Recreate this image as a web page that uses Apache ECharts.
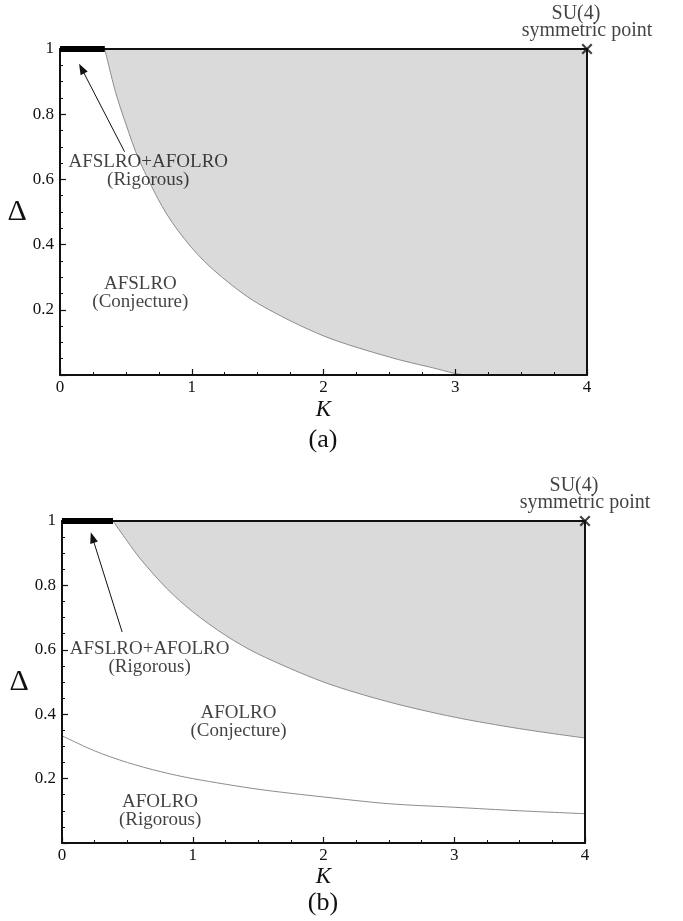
<!DOCTYPE html>
<html><head><meta charset="utf-8">
<script src="https://cdn.jsdelivr.net/npm/echarts@6/dist/echarts.min.js"></script>
<style>html,body{margin:0;padding:0;background:#fff}#c{width:683px;height:921px}</style>
</head><body><div id="c"></div>
<script>
// ---- Data ----
// Panel (a): boundary of the grey region
const aBoundaryK = [0.34, 0.42, 0.50, 0.60, 0.80, 1.00, 1.20, 1.50, 2.00, 2.50, 2.80, 3.10, 4.00];
const aBoundaryD = [1.00, 0.87, 0.77, 0.66, 0.50, 0.39, 0.31, 0.22, 0.12, 0.055, 0.025, 0.00, 0.00];
// Panel (a): thick rigorous segment on Δ = 1
const aBarK = [0, 0.34];
const aBarD = [1, 1];
// Panel (b): boundary of the grey region
const bBoundaryK = [0.39, 0.50, 0.60, 0.80, 1.00, 1.25, 1.50, 2.00, 2.50, 3.00, 3.50, 4.00];
const bBoundaryD = [1.00, 0.937, 0.882, 0.791, 0.718, 0.645, 0.587, 0.50, 0.438, 0.391, 0.355, 0.326];
// Panel (b): lower (rigorous AFOLRO) curve
const bLowerK = [0, 0.25, 0.5, 0.75, 1, 1.5, 2, 2.5, 3, 3.5, 4];
const bLowerD = [0.333, 0.286, 0.25, 0.222, 0.2, 0.167, 0.143, 0.122, 0.111, 0.1, 0.091];
// Panel (b): thick rigorous segment on Δ = 1
const bBarK = [0, 0.39];
const bBarD = [1, 1];
// SU(4) symmetric point
const su4K = 4, su4D = 1;
// Axis ticks
const kMin = 0, kMax = 4, kStep = 1;
const dMin = 0, dMax = 1, dStep = 0.2;

const zip = (a, b) => a.map((v, i) => [v, b[i]]);
const FONT = '"Liberation Serif", "Times New Roman", serif';
const INK = '#111';

function bottomX(gi, nameGap) {
  return {
    type: 'value', gridIndex: gi, min: kMin, max: kMax, interval: kStep, position: 'bottom', z: 10,
    axisLine: { onZero: false, lineStyle: { color: INK, width: 2 } },
    axisTick: { inside: true, length: 6, lineStyle: { color: INK, width: 1.2 } },
    minorTick: { show: true, splitNumber: 4, length: 3, lineStyle: { color: INK, width: 1 } },
    splitLine: { show: false },
    axisLabel: { fontFamily: FONT, fontSize: 17, color: INK, margin: 4 },
    name: 'K', nameLocation: 'middle', nameGap: nameGap,
    nameTextStyle: { fontFamily: FONT, fontStyle: 'italic', fontSize: 23, color: INK }
  };
}
function topX(gi) {
  return {
    type: 'value', gridIndex: gi, min: kMin, max: kMax, position: 'top', z: 10,
    axisLine: { onZero: false, lineStyle: { color: INK, width: 2 } },
    axisTick: { show: false }, axisLabel: { show: false }, splitLine: { show: false }
  };
}
function leftY(gi) {
  return {
    type: 'value', gridIndex: gi, min: dMin, max: dMax, interval: dStep, position: 'left', z: 10,
    axisLine: { onZero: false, lineStyle: { color: INK, width: 2 } },
    axisTick: { inside: true, length: 6, lineStyle: { color: INK, width: 1.2 } },
    minorTick: { show: true, splitNumber: 4, length: 3, lineStyle: { color: INK, width: 1 } },
    splitLine: { show: false },
    axisLabel: { fontFamily: FONT, fontSize: 17, color: INK, margin: 6,
      formatter: v => (v === 0 ? '' : String(v)) },
    name: 'Δ', nameLocation: 'middle', nameRotate: 0, nameGap: 28,
    nameTextStyle: { fontFamily: FONT, fontSize: 30, color: INK }
  };
}
function rightY(gi) {
  return {
    type: 'value', gridIndex: gi, min: dMin, max: dMax, position: 'right', z: 10,
    axisLine: { onZero: false, lineStyle: { color: INK, width: 2 } },
    axisTick: { show: false }, axisLabel: { show: false }, splitLine: { show: false }
  };
}

const labelStyle = { show: true, position: 'inside', color: INK, fontFamily: FONT, fontSize: 19, lineHeight: 18 };
const xSymbol = 'path://M0,1.4 L1.4,0 L5,3.6 L8.6,0 L10,1.4 L6.4,5 L10,8.6 L8.6,10 L5,6.4 L1.4,10 L0,8.6 L3.6,5 Z';

function arrowSeries(xi, yi, from, to) {
  return {
    type: 'custom', xAxisIndex: xi, yAxisIndex: yi, clip: false, z: 12, silent: true,
    encode: { x: [0, 2], y: [1, 3] },
    data: [[from[0], from[1], to[0], to[1]]],
    renderItem(params, api) {
      const p0 = api.coord([api.value(0), api.value(1)]);
      const p1 = api.coord([api.value(2), api.value(3)]);
      const dx = p1[0] - p0[0], dy = p1[1] - p0[1];
      const L = Math.hypot(dx, dy), ux = dx / L, uy = dy / L;
      const hl = 11, hw = 4;
      const bx = p1[0] - ux * hl, by = p1[1] - uy * hl;
      return {
        type: 'group', children: [
          { type: 'line', shape: { x1: p0[0], y1: p0[1], x2: bx + ux * 2, y2: by + uy * 2 }, style: { stroke: INK, lineWidth: 1 } },
          { type: 'polygon', shape: { points: [[p1[0], p1[1]], [bx - uy * hw, by + ux * hw], [bx + uy * hw, by - ux * hw]] }, style: { fill: INK } }
        ]
      };
    }
  };
}

function panelSeries(xi, yi, boundary, bar, arrowFrom, arrowTo, texts) {
  return [
    {
      type: 'line', xAxisIndex: xi, yAxisIndex: yi, data: boundary, showSymbol: false, smooth: 0.3,
      lineStyle: { color: '#8c8c8c', width: 1 },
      areaStyle: { color: '#dadada', opacity: 1, origin: 'end' }, z: 1
    },
    {
      type: 'line', xAxisIndex: xi, yAxisIndex: yi, data: bar, showSymbol: false, clip: false,
      lineStyle: { color: '#000', width: 6 }, z: 12
    },
    {
      type: 'scatter', xAxisIndex: xi, yAxisIndex: yi, clip: false, z: 12,
      data: [[su4K, su4D]], symbol: xSymbol, symbolSize: 11, itemStyle: { color: INK },
      label: {
        show: true, position: 'top', distance: 4, color: INK, fontFamily: FONT, align: 'center',
        formatter: '{a|SU(4)}\n{b|symmetric point}',
        rich: {
          a: { fontFamily: FONT, fontSize: 20, lineHeight: 17, color: INK, padding: [0, 22, 0, 0] },
          b: { fontFamily: FONT, fontSize: 20, lineHeight: 17, color: INK }
        }
      }
    },
    arrowSeries(xi, yi, arrowFrom, arrowTo),
    {
      type: 'scatter', xAxisIndex: xi, yAxisIndex: yi, symbolSize: 0, z: 12,
      data: texts.map(t => ({ value: t.at, label: Object.assign({}, labelStyle, { formatter: t.text }) }))
    }
  ];
}

const option = {
  animation: false,
  backgroundColor: '#fff',
  grid: [
    { left: 60, right: 96, top: 49, height: 326 },
    { left: 62, right: 98, top: 521, height: 322 }
  ],
  xAxis: [bottomX(0, 23), topX(0), bottomX(1, 22), topX(1)],
  yAxis: [leftY(0), rightY(0), leftY(1), rightY(1)],
  series: [].concat(
    panelSeries(0, 0, zip(aBoundaryK, aBoundaryD), zip(aBarK, aBarD), [0.49, 0.685], [0.145, 0.955], [
      { at: [0.67, 0.625], text: 'AFSLRO+AFOLRO\n(Rigorous)' },
      { at: [0.61, 0.25], text: 'AFSLRO\n(Conjecture)' }
    ]),
    panelSeries(2, 2, zip(bBoundaryK, bBoundaryD), zip(bBarK, bBarD), [0.46, 0.655], [0.22, 0.965], [
      { at: [0.67, 0.575], text: 'AFSLRO+AFOLRO\n(Rigorous)' },
      { at: [1.35, 0.375], text: 'AFOLRO\n(Conjecture)' },
      { at: [0.75, 0.10], text: 'AFOLRO\n(Rigorous)' }
    ]),
    [{
      type: 'line', xAxisIndex: 2, yAxisIndex: 2, data: zip(bLowerK, bLowerD), showSymbol: false, smooth: 0.3,
      lineStyle: { color: '#8c8c8c', width: 1 }, z: 2
    }]
  ),
  graphic: [
    { type: 'text', x: 323, y: 440, style: { text: '(a)', font: '26px ' + FONT, fill: INK, textAlign: 'center', textVerticalAlign: 'middle' } },
    { type: 'text', x: 323, y: 903, style: { text: '(b)', font: '26px ' + FONT, fill: INK, textAlign: 'center', textVerticalAlign: 'middle' } }
  ]
};

const chart = echarts.init(document.getElementById('c'), null, { renderer: 'canvas' });
chart.setOption(option);
</script>
</body></html>
